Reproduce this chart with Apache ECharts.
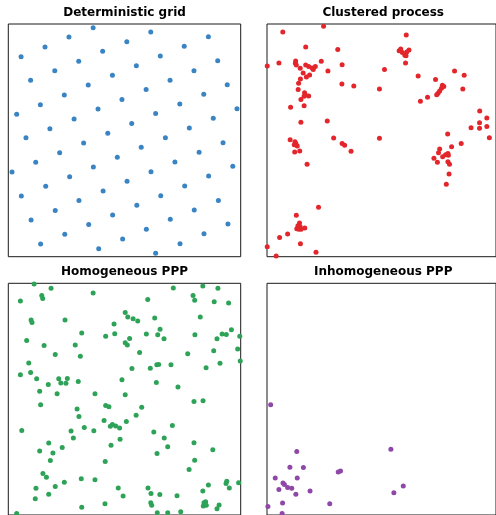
<!DOCTYPE html>
<html>
<head>
<meta charset="utf-8">
<script src="https://cdn.jsdelivr.net/npm/echarts@6/dist/echarts.min.js"></script>
<style>
html, body { margin: 0; padding: 0; background: #fff; }
#chart { width: 496px; height: 515px; }
</style>
</head>
<body>
<div id="chart"></div>
<script>
// panel titles, in drawing order
const titles = ['Deterministic grid', 'Clustered process', 'Homogeneous PPP', 'Inhomogeneous PPP'];
const colors = ['#3a84c3', '#e3262b', '#2ea358', '#8f48a8'];

// points in the unit square
const gridPts = [
  [0.365, 0.984], [0.613, 0.966], [0.861, 0.945], [0.261, 0.944], [0.510, 0.924], [0.757, 0.904],
  [0.158, 0.901], [0.406, 0.883], [0.654, 0.862], [0.901, 0.842], [0.055, 0.859], [0.303, 0.840],
  [0.551, 0.821], [0.799, 0.799], [0.200, 0.799], [0.448, 0.780], [0.696, 0.758], [0.942, 0.739],
  [0.096, 0.758], [0.344, 0.738], [0.593, 0.718], [0.841, 0.698], [0.241, 0.695], [0.489, 0.676],
  [0.738, 0.656], [0.984, 0.636], [0.138, 0.653], [0.386, 0.635], [0.634, 0.615], [0.882, 0.595],
  [0.036, 0.612], [0.283, 0.592], [0.531, 0.572], [0.779, 0.553], [0.179, 0.550], [0.428, 0.530],
  [0.676, 0.511], [0.076, 0.511], [0.924, 0.490], [0.324, 0.489], [0.572, 0.470], [0.221, 0.447],
  [0.469, 0.427], [0.821, 0.449], [0.118, 0.406], [0.717, 0.407], [0.966, 0.389], [0.366, 0.386],
  [0.016, 0.364], [0.614, 0.365], [0.264, 0.344], [0.862, 0.347], [0.511, 0.324], [0.161, 0.303],
  [0.759, 0.304], [0.408, 0.282], [0.056, 0.261], [0.656, 0.262], [0.304, 0.242], [0.904, 0.242],
  [0.553, 0.221], [0.202, 0.199], [0.800, 0.201], [0.449, 0.179], [0.098, 0.158], [0.697, 0.161],
  [0.945, 0.141], [0.346, 0.138], [0.594, 0.118], [0.243, 0.096], [0.842, 0.099], [0.492, 0.076],
  [0.139, 0.055], [0.739, 0.056], [0.389, 0.034], [0.634, 0.015]
];

const clusterPts = [
  [0.069, 0.966], [0.247, 0.990], [0.608, 0.953], [0.169, 0.901], [0.309, 0.890], [0.577, 0.885],
  [0.584, 0.893], [0.591, 0.877], [0.602, 0.866], [0.610, 0.880], [0.620, 0.888], [0.607, 0.864],
  [0.605, 0.832], [0.001, 0.820], [0.052, 0.832], [0.125, 0.841], [0.124, 0.831], [0.128, 0.824],
  [0.169, 0.824], [0.182, 0.817], [0.145, 0.810], [0.202, 0.805], [0.211, 0.817], [0.197, 0.811],
  [0.237, 0.840], [0.328, 0.825], [0.266, 0.798], [0.158, 0.789], [0.186, 0.781], [0.172, 0.772],
  [0.146, 0.764], [0.138, 0.745], [0.136, 0.718], [0.164, 0.705], [0.167, 0.695], [0.162, 0.689],
  [0.182, 0.691], [0.148, 0.676], [0.162, 0.649], [0.103, 0.642], [0.148, 0.578], [0.263, 0.583],
  [0.327, 0.742], [0.379, 0.734], [0.491, 0.721], [0.513, 0.805], [0.660, 0.777], [0.736, 0.761],
  [0.819, 0.798], [0.861, 0.780], [0.855, 0.721], [0.701, 0.685], [0.670, 0.668], [0.766, 0.737],
  [0.772, 0.731], [0.762, 0.724], [0.754, 0.712], [0.747, 0.702], [0.741, 0.696], [0.929, 0.626],
  [0.960, 0.596], [0.891, 0.554], [0.928, 0.576], [0.928, 0.552], [0.960, 0.559], [0.971, 0.511],
  [0.789, 0.527], [0.491, 0.509], [0.291, 0.510], [0.101, 0.503], [0.122, 0.494], [0.126, 0.487],
  [0.119, 0.481], [0.132, 0.476], [0.121, 0.450], [0.143, 0.454], [0.175, 0.397], [0.328, 0.486],
  [0.339, 0.479], [0.367, 0.453], [0.806, 0.473], [0.848, 0.487], [0.754, 0.463], [0.749, 0.447],
  [0.767, 0.430], [0.780, 0.438], [0.790, 0.444], [0.792, 0.436], [0.729, 0.423], [0.744, 0.406],
  [0.790, 0.408], [0.797, 0.397], [0.795, 0.355], [0.783, 0.311], [0.225, 0.212], [0.128, 0.178],
  [0.142, 0.145], [0.135, 0.133], [0.130, 0.120], [0.139, 0.118], [0.149, 0.118], [0.165, 0.123],
  [0.145, 0.129], [0.090, 0.098], [0.055, 0.082], [0.001, 0.043], [0.146, 0.056], [0.214, 0.019],
  [0.040, 0.003]
];

const homogPts = [
  [0.111, 0.997], [0.052, 0.924], [0.144, 0.947], [0.148, 0.934], [0.184, 0.979], [0.365, 0.958],
  [0.710, 0.980], [0.837, 0.988], [0.902, 0.979], [0.795, 0.947], [0.802, 0.927], [0.600, 0.930],
  [0.886, 0.920], [0.948, 0.915], [0.098, 0.842], [0.102, 0.831], [0.244, 0.842], [0.503, 0.874],
  [0.514, 0.855], [0.537, 0.847], [0.557, 0.837], [0.630, 0.850], [0.826, 0.855], [0.455, 0.824],
  [0.316, 0.786], [0.419, 0.772], [0.458, 0.782], [0.594, 0.781], [0.643, 0.778], [0.653, 0.802],
  [0.670, 0.761], [0.503, 0.743], [0.512, 0.734], [0.522, 0.762], [0.803, 0.778], [0.920, 0.781],
  [0.938, 0.779], [0.960, 0.799], [0.898, 0.761], [0.996, 0.771], [0.079, 0.753], [0.154, 0.732],
  [0.288, 0.734], [0.987, 0.716], [0.884, 0.709], [0.202, 0.693], [0.310, 0.685], [0.565, 0.701],
  [0.772, 0.696], [0.998, 0.665], [0.088, 0.656], [0.911, 0.655], [0.639, 0.648], [0.647, 0.650],
  [0.700, 0.648], [0.611, 0.633], [0.532, 0.632], [0.851, 0.636], [0.052, 0.605], [0.096, 0.615],
  [0.122, 0.588], [0.217, 0.588], [0.226, 0.570], [0.248, 0.569], [0.254, 0.589], [0.301, 0.576],
  [0.489, 0.584], [0.637, 0.572], [0.172, 0.563], [0.730, 0.552], [0.135, 0.534], [0.210, 0.523],
  [0.373, 0.523], [0.503, 0.519], [0.799, 0.490], [0.838, 0.493], [0.139, 0.476], [0.419, 0.473],
  [0.433, 0.467], [0.574, 0.465], [0.296, 0.457], [0.304, 0.425], [0.550, 0.430], [0.412, 0.408],
  [0.508, 0.403], [0.448, 0.391], [0.439, 0.383], [0.462, 0.384], [0.479, 0.375], [0.327, 0.378],
  [0.706, 0.386], [0.058, 0.365], [0.270, 0.362], [0.368, 0.364], [0.626, 0.358], [0.280, 0.332],
  [0.481, 0.327], [0.671, 0.332], [0.174, 0.311], [0.799, 0.312], [0.232, 0.291], [0.442, 0.301],
  [0.686, 0.295], [0.135, 0.276], [0.192, 0.268], [0.880, 0.282], [0.640, 0.265], [0.181, 0.235],
  [0.417, 0.231], [0.802, 0.236], [0.778, 0.196], [0.149, 0.179], [0.164, 0.163], [0.314, 0.156],
  [0.373, 0.152], [0.241, 0.141], [0.202, 0.123], [0.119, 0.115], [0.473, 0.117], [0.601, 0.117],
  [0.940, 0.146], [0.937, 0.136], [0.991, 0.139], [0.861, 0.130], [0.951, 0.116], [0.837, 0.104],
  [0.174, 0.090], [0.614, 0.093], [0.652, 0.089], [0.726, 0.083], [0.494, 0.082], [0.116, 0.070],
  [0.416, 0.049], [0.613, 0.053], [0.617, 0.042], [0.842, 0.053], [0.849, 0.057], [0.839, 0.039],
  [0.852, 0.042], [0.846, 0.047], [0.907, 0.043], [0.898, 0.027], [0.316, 0.033], [0.036, 0.007],
  [0.641, 0.010], [0.686, 0.010], [0.742, 0.014]
];

const inhomPts = [
  [0.016, 0.476], [0.130, 0.274], [0.541, 0.284], [0.100, 0.206], [0.159, 0.205], [0.311, 0.186],
  [0.321, 0.190], [0.036, 0.160], [0.132, 0.160], [0.070, 0.138], [0.076, 0.132], [0.052, 0.110],
  [0.090, 0.119], [0.108, 0.115], [0.126, 0.090], [0.188, 0.104], [0.595, 0.125], [0.554, 0.096],
  [0.068, 0.052], [0.274, 0.049], [0.004, 0.037], [0.066, 0.007]
];

const pointSets = [gridPts, clusterPts, homogPts, inhomPts];

// 2x2 layout, the right column and bottom row run past the window edge
const panelW = 232.4, panelH = 232.7;
const lefts = [8.3, 267, 8.3, 267];
const tops = [24, 24, 283.3, 283.3];
const titleY = [13, 13, 272, 272];

const chart = echarts.init(document.getElementById('chart'), null, { renderer: 'canvas' });

const option = {
  animation: false,
  backgroundColor: '#fff',
  grid: pointSets.map((_, i) => ({
    left: lefts[i], top: tops[i], width: panelW, height: panelH,
    show: true, borderColor: '#1a1a1a', borderWidth: 1, backgroundColor: 'transparent'
  })),
  xAxis: pointSets.map((_, i) => ({
    type: 'value', gridIndex: i, min: 0, max: 1, show: false
  })),
  yAxis: pointSets.map((_, i) => ({
    type: 'value', gridIndex: i, min: 0, max: 1, show: false
  })),
  series: pointSets.map((pts, i) => ({
    type: 'scatter', xAxisIndex: i, yAxisIndex: i, data: pts,
    symbolSize: 5, clip: true, silent: true,
    itemStyle: { color: colors[i], opacity: 1 }
  })),
  graphic: titles.map((t, i) => ({
    type: 'text',
    x: lefts[i] + panelW / 2,
    y: titleY[i],
    style: {
      text: t, fill: '#000',
      font: 'bold 12px "DejaVu Sans"',
      align: 'center', verticalAlign: 'middle',
      textAlign: 'center', textVerticalAlign: 'middle'
    }
  }))
};

chart.setOption(option);
</script>
</body>
</html>
